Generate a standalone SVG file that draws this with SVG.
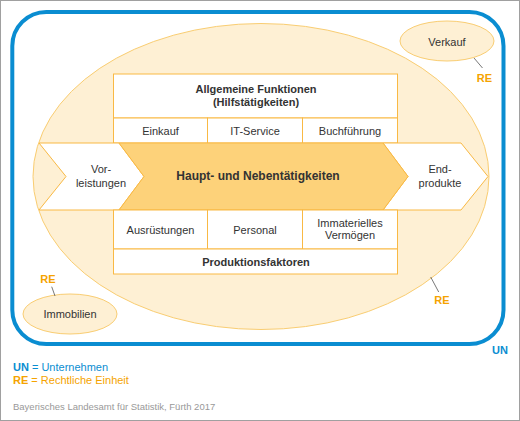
<svg xmlns="http://www.w3.org/2000/svg" width="520" height="421" viewBox="0 0 520 421">
<style>
text{font-family:"Liberation Sans",Arial,sans-serif;font-size:11px;fill:#333;text-anchor:middle}
.b{font-weight:bold}
.re{fill:#f5a300;font-weight:bold}
.un{fill:#0a8dd1;font-weight:bold}
.cell{fill:#fff;stroke:#f9b944;stroke-width:1}
.lead{stroke:#555;stroke-width:0.8;fill:none}
.l{text-anchor:start}
</style>
<rect x="0.5" y="0.5" width="519" height="420" fill="#fff" stroke="#a0a0a0" stroke-width="1"/>
<g id="UN">
<rect x="12.3" y="12" width="491.2" height="332" rx="34" ry="34" fill="none" stroke="#0a8dd1" stroke-width="4"/>
<text class="un" x="500" y="354">UN</text>
</g>
<g id="RE-main">
<ellipse cx="261" cy="176.5" rx="228" ry="153" fill="#fef0d4" stroke="#f9cd72" stroke-width="1"/>
</g>
<g id="allgemeine">
<rect class="cell" x="113.5" y="74" width="284" height="44"/>
<text class="b" x="256" y="93">Allgemeine Funktionen</text>
<text class="b" x="256" y="105.5">(Hilfstätigkeiten)</text>
</g>
<g id="einkauf"><rect class="cell" x="113.5" y="118" width="94" height="25"/><text x="160.5" y="134.5">Einkauf</text></g>
<g id="it"><rect class="cell" x="207.5" y="118" width="95" height="25"/><text x="255" y="134.5">IT-Service</text></g>
<g id="buch"><rect class="cell" x="302.5" y="118" width="95" height="25"/><text x="350" y="134.5">Buchführung</text></g>
<g id="vorleistungen">
<polygon class="cell" points="39,143 119,143 144,176.5 119,210 39,210 66,176.5"/>
<text x="101" y="173">Vor-</text>
<text x="101" y="186.5">leistungen</text>
</g>
<g id="endprodukte">
<polygon class="cell" points="383,143 461,143 488,176.5 461,210 383,210 408,176.5"/>
<text x="440" y="173">End-</text>
<text x="440" y="186.5">produkte</text>
</g>
<g id="haupt">
<polygon points="119,143 383,143 408,176.5 383,210 119,210 144,176.5" fill="#fdd27a" stroke="#f9b944" stroke-width="1"/>
<text class="b" x="258" y="180" style="font-size:12px">Haupt- und Nebentätigkeiten</text>
</g>
<g id="ausruestungen"><rect class="cell" x="113.5" y="210" width="94" height="39"/><text x="160.5" y="234">Ausrüstungen</text></g>
<g id="personal"><rect class="cell" x="207.5" y="210" width="95" height="39"/><text x="255" y="234">Personal</text></g>
<g id="immateriell"><rect class="cell" x="302.5" y="210" width="95" height="39"/><text x="350" y="226.5">Immaterielles</text><text x="350" y="238.5">Vermögen</text></g>
<g id="produktionsfaktoren"><rect class="cell" x="113.5" y="249" width="284" height="25"/><text class="b" x="256" y="266">Produktionsfaktoren</text></g>
<g id="verkauf">
<ellipse cx="447" cy="41" rx="47" ry="20" fill="#fef0d4" stroke="#f9cd72" stroke-width="1"/>
<text x="447" y="45.5">Verkauf</text>
</g>
<g id="immobilien">
<ellipse cx="70" cy="314" rx="47" ry="20" fill="#fef0d4" stroke="#f9cd72" stroke-width="1"/>
<text x="70" y="318">Immobilien</text>
</g>
<g id="connectors">
<line class="lead" x1="474" y1="58" x2="482.5" y2="68"/>
<line class="lead" x1="51.7" y1="286.7" x2="55" y2="296"/>
<line class="lead" x1="430.7" y1="277" x2="438.7" y2="292"/>
</g>
<g id="labels">
<text class="re" x="484.5" y="81.5">RE</text>
<text class="re" x="48" y="282.5">RE</text>
<text class="re" x="442" y="304">RE</text>
</g>
<g id="legend">
<text class="l" x="13" y="371" style="fill:#0a8dd1"><tspan font-weight="bold">UN</tspan> = Unternehmen</text>
<text class="l" x="13" y="384" style="fill:#f5a300"><tspan font-weight="bold">RE</tspan> = Rechtliche Einheit</text>
<text class="l" x="13" y="410" style="fill:#999;font-size:9.5px">Bayerisches Landesamt für Statistik, Fürth 2017</text>
</g>
</svg>
